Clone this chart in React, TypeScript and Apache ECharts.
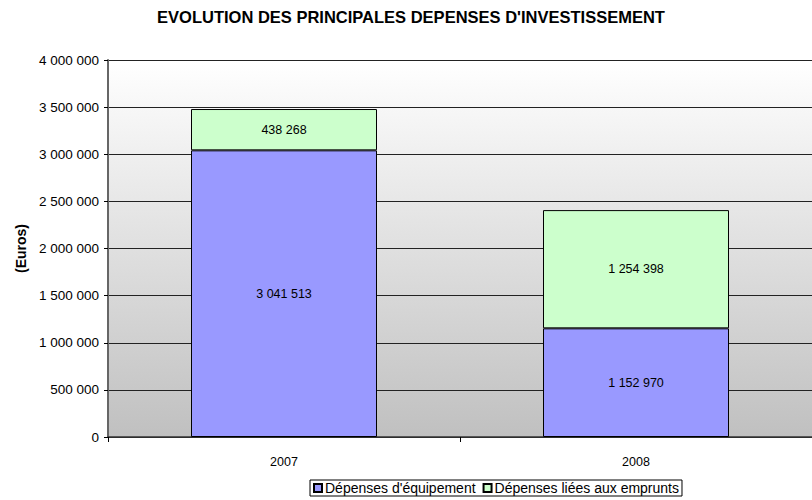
import React, { useEffect, useRef } from "react";
import * as echarts from "echarts";

const categories = ["2007", "2008"];
const equipement = [3041513, 1152970];
const emprunts = [438268, 1254398];
const seriesNames = ["Dépenses d'équipement", "Dépenses liées aux emprunts"];

const fmt = (v: number) => String(Math.round(v)).replace(/\B(?=(\d{3})+(?!\d))/g, " ");

export default function App() {
  const ref = useRef<HTMLDivElement>(null);
  useEffect(() => {
    if (!ref.current) return;
    const chart = echarts.init(ref.current, null, { renderer: "svg" });
    const font = "'Liberation Sans', Arial, sans-serif";
    chart.setOption({
      animation: false,
      backgroundColor: "#ffffff",
      textStyle: { fontFamily: font },
      title: {
        text: "EVOLUTION DES PRINCIPALES DEPENSES D'INVESTISSEMENT",
        left: 406,
        textAlign: "center",
        top: 3,
        textStyle: { fontSize: 16.5, fontWeight: "bold", color: "#000", fontFamily: font },
      },
      grid: {
        left: 108,
        top: 60,
        width: 710,
        height: 377,
        show: true,
        borderWidth: 0,
        backgroundColor: new echarts.graphic.LinearGradient(0, 0, 0, 1, [
          { offset: 0, color: "#ffffff" },
          { offset: 1, color: "#c0c0c0" },
        ]),
      },
      legend: {
        left: 310,
        top: 480,
        orient: "horizontal",
        icon: "rect",
        itemWidth: 8,
        itemHeight: 8,
        itemGap: 7,
        padding: [1, 3, 1, 3],
        borderColor: "#000",
        borderWidth: 1,
        textStyle: { fontSize: 14, color: "#000", fontFamily: font, padding: [0, 0, 0, -2] },
        data: seriesNames,
      },
      xAxis: {
        type: "category",
        data: categories,
        axisLine: { lineStyle: { color: "#333", width: 1.5 } },
        axisTick: { show: true, alignWithLabel: false, length: 5, lineStyle: { color: "#000" } },
        axisLabel: { fontSize: 12.5, color: "#000", margin: 18, fontFamily: font },
      },
      yAxis: {
        type: "value",
        min: 0,
        max: 4000000,
        interval: 500000,
        name: "(Euros)",
        nameLocation: "middle",
        nameRotate: 90,
        nameGap: 80,
        nameTextStyle: { fontSize: 14, fontWeight: "bold", color: "#000", fontFamily: font },
        axisLine: { show: true, lineStyle: { color: "#666", width: 2 } },
        axisTick: { show: true, length: 4, lineStyle: { color: "#000" } },
        axisLabel: { fontSize: 13.5, color: "#000", margin: 9, formatter: (v: number) => fmt(v), fontFamily: font },
        splitLine: { lineStyle: { color: "#222", width: 1 } },
      },
      series: [
        {
          name: seriesNames[0],
          type: "bar",
          stack: "total",
          barWidth: 186,
          data: equipement,
          itemStyle: { color: "#9999ff", borderColor: "#000", borderWidth: 1 },
          label: {
            show: true,
            position: "inside",
            color: "#000",
            fontSize: 12.5,
            fontFamily: font,
            formatter: (p: any) => fmt(p.value),
          },
        },
        {
          name: seriesNames[1],
          type: "bar",
          stack: "total",
          barWidth: 186,
          data: emprunts,
          itemStyle: { color: "#ccffcc", borderColor: "#000", borderWidth: 1 },
          label: {
            show: true,
            position: "inside",
            color: "#000",
            fontSize: 12.5,
            fontFamily: font,
            formatter: (p: any) => fmt(p.value),
          },
        },
      ],
    });
    return () => chart.dispose();
  }, []);
  return <div ref={ref} style={{ width: 812, height: 500, position: "absolute", left: 0, top: 0 }} />;
}
